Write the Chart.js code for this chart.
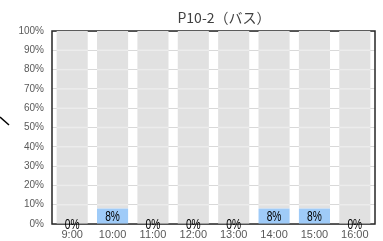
<!DOCTYPE html>
<html>
<head>
<meta charset="utf-8">
<script src="https://cdn.jsdelivr.net/npm/chart.js@4/dist/chart.umd.min.js"></script>
<style>
  html, body { margin: 0; padding: 0; background: #fff; }
  #wrap { width: 383px; height: 241px; position: relative; }
</style>
</head>
<body>
<div id="wrap"><canvas id="chart"></canvas></div>
<script>
// data
const titleText = "P10-2（バス）";
const hours = ["9:00", "10:00", "11:00", "12:00", "13:00", "14:00", "15:00", "16:00"];
const shares = [0, 8, 0, 0, 0, 8, 8, 0];
const rest = [100, 92, 100, 100, 100, 92, 92, 100];
const yTicks = [0, 10, 20, 30, 40, 50, 60, 70, 80, 90, 100];

const narrow = "'Liberation Sans Narrow', 'Arial Narrow', sans-serif";

// frame round the plot, drawn under the bars
const framePlugin = {
    id: "frame",
    beforeDatasetsDraw(chart) {
        const { ctx, chartArea: a } = chart;
        ctx.save();
        ctx.strokeStyle = "#262626";
        ctx.lineWidth = 1.5;
        ctx.strokeRect(a.left, a.top, a.right - a.left, a.bottom - a.top);
        ctx.restore();
    },
    // the grid shows lighter where it crosses the grey bars
    afterDatasetsDraw(chart) {
        const ctx = chart.ctx;
        const y = chart.scales.y;
        const meta = chart.getDatasetMeta(1);
        ctx.save();
        ctx.strokeStyle = "#ececec";
        ctx.lineWidth = 1.5;
        meta.data.forEach(bar => {
            yTicks.slice(1, -1).forEach(v => {
                const py = y.getPixelForValue(v);
                if (py > bar.y && py < bar.base) {
                    ctx.beginPath();
                    ctx.moveTo(bar.x - bar.width / 2, py);
                    ctx.lineTo(bar.x + bar.width / 2, py);
                    ctx.stroke();
                }
            });
        });
        ctx.restore();
    }
};

// title and value labels
const textPlugin = {
    id: "texts",
    afterDraw(chart) {
        const ctx = chart.ctx;
        ctx.save();
        ctx.fillStyle = "#404040";
        ctx.font = "14px 'Noto Sans CJK JP', sans-serif";
        ctx.textAlign = "center";
        ctx.textBaseline = "middle";
        ctx.fillText(titleText, 224, 18);

        const meta = chart.getDatasetMeta(0);
        ctx.fillStyle = "#000";
        ctx.font = "15px 'Liberation Sans', sans-serif";
        meta.data.forEach((bar, i) => {
            const y = (bar.y + bar.base) / 2 + 1;
            ctx.save();
            ctx.translate(bar.x, y);
            ctx.scale(0.68, 1);
            ctx.fillText(shares[i] + "%", 0, 0);
            ctx.restore();
        });

        // little stray line at the left edge
        ctx.strokeStyle = "#000";
        ctx.lineWidth = 1.5;
        ctx.beginPath();
        ctx.moveTo(0, 117);
        ctx.lineTo(9, 125);
        ctx.stroke();
        ctx.restore();
    }
};

new Chart(document.getElementById("chart"), {
    type: "bar",
    data: {
        labels: hours,
        datasets: [
            { data: shares, backgroundColor: "#9fcbf8", categoryPercentage: 1, barPercentage: 0.77 },
            { data: rest, backgroundColor: "#e1e1e1", categoryPercentage: 1, barPercentage: 0.77 }
        ]
    },
    options: {
        responsive: true,
        maintainAspectRatio: false,
        animation: false,
        layout: { padding: { top: 31, right: 8, left: 0, bottom: 0 } },
        plugins: {
            legend: { display: false },
            tooltip: { enabled: false },
            title: { display: false }
        },
        scales: {
            x: {
                stacked: true,
                grid: { display: false, drawTicks: false },
                border: { display: false },
                ticks: { color: "#595959", font: { family: narrow, size: 11 }, padding: 4, maxRotation: 0 },
                afterFit(scale) { scale.height = 17; }
            },
            y: {
                stacked: true,
                min: 0,
                max: 100,
                afterBuildTicks(scale) { scale.ticks = yTicks.map(v => ({ value: v })); },
                grid: { color: "#d9d9d9", lineWidth: 1, drawTicks: false },
                border: { display: false },
                ticks: {
                    color: "#595959",
                    font: { family: narrow, size: 10 },
                    padding: 8,
                    callback: v => v + "%"
                },
                afterFit(scale) { scale.width = 52; }
            }
        }
    },
    plugins: [framePlugin, textPlugin]
});
</script>
</body>
</html>
